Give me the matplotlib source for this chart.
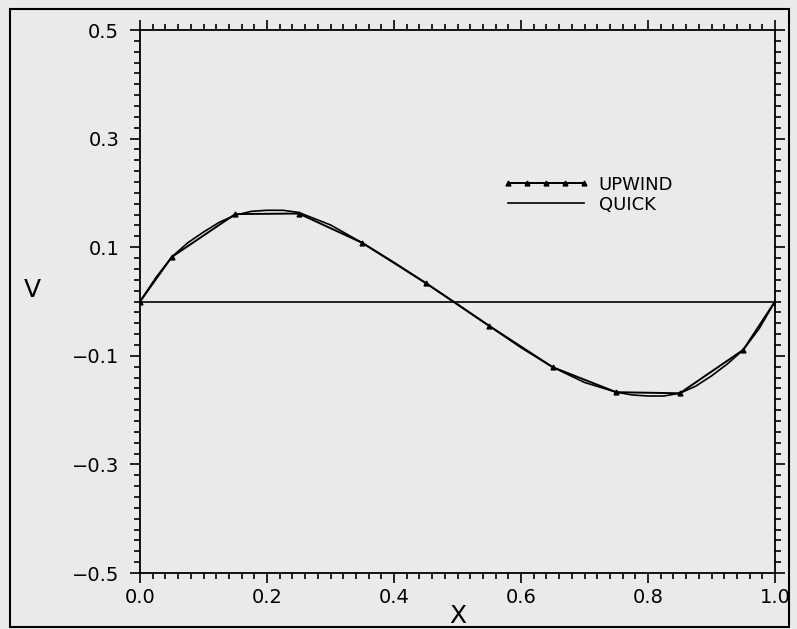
import numpy as np
import matplotlib as mpl
mpl.use('agg')
import matplotlib.pyplot as plt
from matplotlib.ticker import MultipleLocator, FuncFormatter
from matplotlib.patches import Rectangle

# upwind: cell centres of a 10-cell grid plus the two walls
x_upwind = [0.0, 0.05, 0.15, 0.25, 0.35, 0.45, 0.55, 0.65, 0.75, 0.85, 0.95, 1.0]
v_upwind = [0.0, 0.082, 0.161, 0.162, 0.108, 0.034, -0.045, -0.121, -0.167, -0.169, -0.089, 0.0]

# quick: smooth profile read every 0.025-0.05
x_quick = [0.0, 0.025, 0.05, 0.075, 0.1, 0.125, 0.15, 0.175, 0.2, 0.225, 0.25, 0.3, 0.35, 0.4, 0.45, 0.5,
           0.55, 0.6, 0.65, 0.7, 0.75, 0.775, 0.8, 0.825, 0.85, 0.875, 0.9, 0.925, 0.95, 0.975, 1.0]
v_quick = [0.0, 0.044, 0.082, 0.108, 0.128, 0.146, 0.159, 0.166, 0.168, 0.168, 0.164, 0.141, 0.108, 0.072, 0.034, -0.005,
           -0.045, -0.085, -0.121, -0.149, -0.167, -0.172, -0.174, -0.174, -0.169, -0.156, -0.137, -0.115, -0.089, -0.050, 0.0]

bg = '#e9eae9'

def fmt(v, pos):
    return f'{v:.1f}'.replace('-', '\u2212')

fig = plt.figure(figsize=(7.97, 6.29), dpi=100, facecolor=bg)
ax = fig.add_axes([0.1757, 0.089, 0.7967, 0.8633], facecolor=bg)

ax.plot(x_upwind, v_upwind, color='black', lw=1.4, marker='^', ms=3.5,
        label='UPWIND')
ax.plot(x_quick, v_quick, color='black', lw=1.2, label='QUICK')
ax.axhline(0.0, color='black', lw=1.2)

ax.set_xlim(0.0, 1.0)
ax.set_ylim(-0.5, 0.5)
ax.xaxis.set_major_locator(MultipleLocator(0.2))
ax.xaxis.set_minor_locator(MultipleLocator(0.02))
ax.yaxis.set_minor_locator(MultipleLocator(0.02))
ax.set_yticks([0.5, 0.3, 0.1, -0.1, -0.3, -0.5])
ax.xaxis.set_major_formatter(FuncFormatter(fmt))
ax.yaxis.set_major_formatter(FuncFormatter(fmt))
ax.tick_params(which='both', direction='out', top=True, right=True,
               labeltop=False, labelright=False, width=1.2, labelsize=14)
ax.tick_params(which='major', length=7)
ax.tick_params(which='minor', length=4)
ax.tick_params(axis='y', which='major', pad=8)
for s in ax.spines.values():
    s.set_linewidth(1.3)

ax.set_xlabel('X', fontsize=18, labelpad=-2)
ax.set_ylabel('V', fontsize=18, rotation=0)
ax.yaxis.set_label_coords(-0.17, 0.5)

ax.legend(loc='upper left', bbox_to_anchor=(0.56, 0.745), frameon=False,
          handlelength=4.8, numpoints=5, fontsize=13, labelspacing=0.1,
          handletextpad=0.5, borderaxespad=0.0)

# outer frame of the scanned sheet
fig.patches.append(Rectangle((0.012, 0.003), 0.978, 0.982, transform=fig.transFigure,
                             fill=False, edgecolor='black', lw=1.5))

plt.savefig('out.png', dpi=100, facecolor=bg)
